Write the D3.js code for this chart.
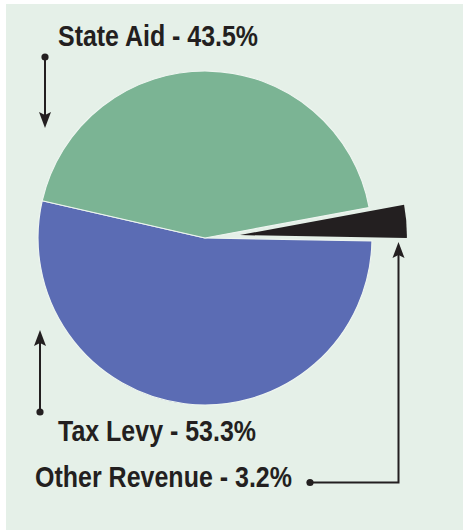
<!DOCTYPE html>
<html>
<head>
<meta charset="utf-8">
<script src="https://cdn.jsdelivr.net/npm/d3@7"></script>
<style>
  html, body { margin: 0; padding: 0; background: #ffffff; }
  svg { display: block; }
  text { font-family: "Liberation Sans Narrow", "Arial Narrow", "Liberation Sans", Arial, sans-serif; font-weight: bold; fill: #231f20; }
</style>
</head>
<body>
<script>
// Data
const categories = ["Other Revenue", "Tax Levy", "State Aid"];
const values = [3.2, 53.3, 43.5];
const labels = ["Other Revenue - 3.2%", "Tax Levy - 53.3%", "State Aid - 43.5%"];
const colors = ["#231f20", "#5b6cb4", "#7bb494"];

const W = 463, H = 531;
const svg = d3.select("body").append("svg").attr("width", W).attr("height", H);

// panel background
svg.append("rect").attr("x", 6).attr("y", 4).attr("width", W - 6).attr("height", 526).attr("fill", "#e5f0e8");

const cx = 205, cy = 238, R = 167;
const startDeg = 79.5;
const pie = d3.pie().sort(null).value(d => d)
  .startAngle(startDeg * Math.PI / 180)
  .endAngle((startDeg + 360) * Math.PI / 180);
const arcs = pie(values);
const arc = d3.arc().innerRadius(0).outerRadius(R);

const g = svg.append("g").attr("transform", `translate(${cx},${cy})`);
const explode = [35, 0, 0];
g.selectAll("path.slice").data(arcs).enter().append("path")
  .attr("class", "slice")
  .attr("d", arc)
  .attr("fill", (d, i) => colors[i])
  .attr("stroke", (d, i) => i === 0 ? "none" : "#eef5f0")
  .attr("stroke-width", 1.2)
  .attr("stroke-linejoin", "round")
  .attr("transform", (d, i) => {
    const a = (d.startAngle + d.endAngle) / 2;
    const off = explode[i];
    return `translate(${off * Math.sin(a)},${-off * Math.cos(a)})`;
  });

// Labels
const labelPos = [
  { x: 35, y: 487, w: 257 },  // Other Revenue
  { x: 58, y: 441, w: 198 },  // Tax Levy
  { x: 58, y: 45.7, w: 200 }  // State Aid
];
svg.selectAll("text.lab").data(labels).enter().append("text")
  .attr("class", "lab")
  .attr("x", (d, i) => labelPos[i].x)
  .attr("y", (d, i) => labelPos[i].y)
  .attr("font-size", 30)
  .attr("textLength", (d, i) => labelPos[i].w)
  .attr("lengthAdjust", "spacingAndGlyphs")
  .text(d => d);

// Arrow helpers
const ink = "#231f20";
function arrowHead(x, tipY, dir) { // dir: 1 = pointing down, -1 = pointing up
  const h = 16 * dir, n = 13 * dir;
  return `M${x},${tipY} L${x + 6},${tipY - h} L${x},${tipY - n} L${x - 6},${tipY - h} Z`;
}
const lines = svg.append("g");
// State Aid arrow (down)
lines.append("line").attr("x1", 45).attr("y1", 57).attr("x2", 45).attr("y2", 118).attr("stroke", ink).attr("stroke-width", 2);
lines.append("circle").attr("cx", 45).attr("cy", 57).attr("r", 3.6).attr("fill", ink);
lines.append("path").attr("d", arrowHead(45, 128, 1)).attr("fill", ink);
// Tax Levy arrow (up)
lines.append("line").attr("x1", 40).attr("y1", 412).attr("x2", 40).attr("y2", 340).attr("stroke", ink).attr("stroke-width", 2);
lines.append("circle").attr("cx", 40).attr("cy", 412).attr("r", 3.6).attr("fill", ink);
lines.append("path").attr("d", arrowHead(40, 330, -1)).attr("fill", ink);
// Other Revenue arrow (elbow)
lines.append("path").attr("d", "M310,482.5 L398.5,482.5 L398.5,252").attr("fill", "none").attr("stroke", ink).attr("stroke-width", 2);
lines.append("circle").attr("cx", 310).attr("cy", 482.5).attr("r", 3.6).attr("fill", ink);
lines.append("path").attr("d", arrowHead(398.5, 242, -1)).attr("fill", ink);
</script>
</body>
</html>
